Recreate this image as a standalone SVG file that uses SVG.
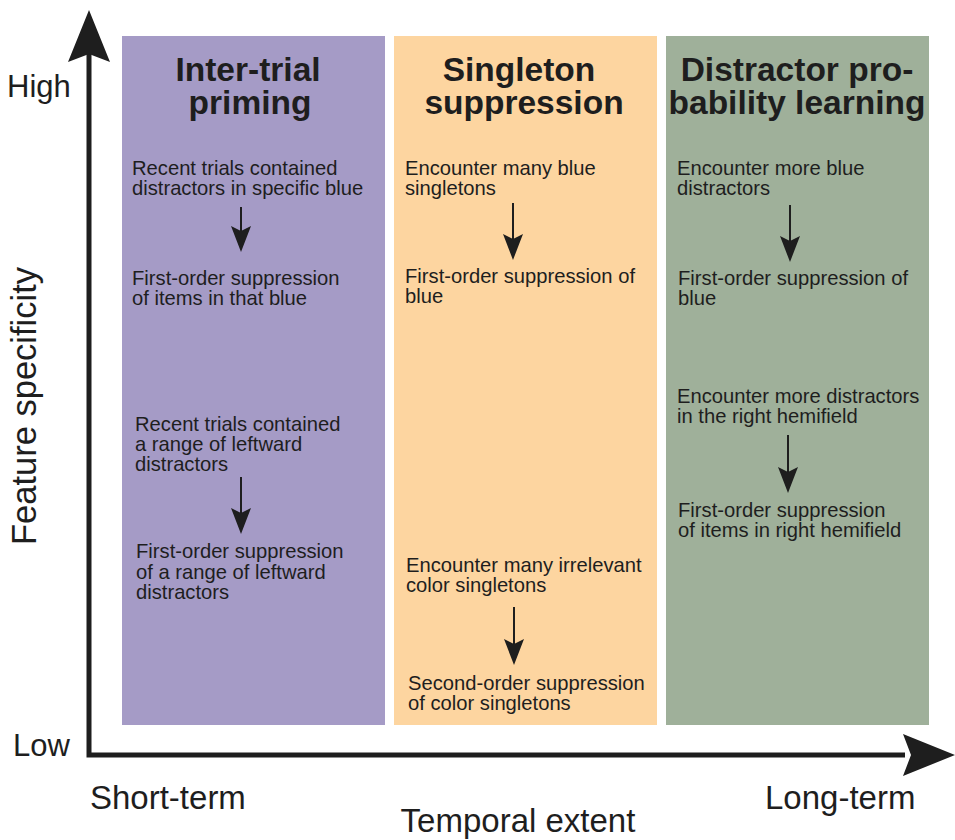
<svg xmlns="http://www.w3.org/2000/svg" width="955" height="840" viewBox="0 0 955 840">
<defs>
<style>
.t{font-family:"Liberation Sans",Arial,sans-serif;font-size:20.2px;fill:#1e1e1e}
.h{font-family:"Liberation Sans",Arial,sans-serif;font-size:33.5px;font-weight:bold;fill:#1e1e1e;text-anchor:middle}
.ax{font-family:"Liberation Sans",Arial,sans-serif;font-size:33px;fill:#1e1e1e}
.c{stroke:#1e1e1e;stroke-width:2;fill:none}
.hd{fill:#1e1e1e}
</style>
</defs>
<rect width="955" height="840" fill="#fff"/>
<g id="axes">
<path d="M89,52 V755 H905" stroke="#1e1e1e" stroke-width="5" fill="none"/>
<path d="M89,10 L110,62 L89,54 L68,62 Z" fill="#1e1e1e"/>
<path d="M955,755 L903,734 L911,755 L903,776 Z" fill="#1e1e1e"/>
<text class="ax" x="7" y="97" style="font-size:31px">High</text>
<text class="ax" x="13" y="756" style="font-size:31px">Low</text>
<text class="ax" x="90" y="809">Short-term</text>
<text class="ax" x="765" y="809">Long-term</text>
<text class="ax" x="518" y="832" text-anchor="middle">Temporal extent</text>
<text class="ax" transform="translate(36,406) rotate(-90)" text-anchor="middle" style="font-size:34.5px">Feature specificity</text>
</g>
<g id="panel-inter-trial">
<rect x="122" y="36" width="263" height="689" fill="#a59bc6"/>
<text class="h" x="248" y="81">Inter-trial</text>
<text class="h" x="250" y="114">priming</text>
<text class="t" x="132" y="175">Recent trials contained</text>
<text class="t" x="132" y="195">distractors in specific blue</text>
<text class="t" x="132" y="285">First-order suppression</text>
<text class="t" x="132" y="305">of items in that blue</text>
<text class="t" x="135" y="431">Recent trials contained</text>
<text class="t" x="135" y="451">a range of leftward</text>
<text class="t" x="135" y="471">distractors</text>
<text class="t" x="136" y="558">First-order suppression</text>
<text class="t" x="136" y="579">of a range of leftward</text>
<text class="t" x="136" y="599">distractors</text>
</g>
<g id="panel-singleton">
<rect x="394" y="36" width="263" height="689" fill="#fdd5a0"/>
<text class="h" x="519" y="81">Singleton</text>
<text class="h" x="524" y="114">suppression</text>
<text class="t" x="405" y="175">Encounter many blue</text>
<text class="t" x="405" y="195">singletons</text>
<text class="t" x="405" y="283">First-order suppression of</text>
<text class="t" x="405" y="303">blue</text>
<text class="t" x="406" y="572">Encounter many irrelevant</text>
<text class="t" x="406" y="592">color singletons</text>
<text class="t" x="408" y="690">Second-order suppression</text>
<text class="t" x="408" y="710">of color singletons</text>
</g>
<g id="panel-distractor">
<rect x="666" y="36" width="263" height="689" fill="#9fb09a"/>
<text class="h" x="797" y="81">Distractor pro-</text>
<text class="h" x="797" y="114">bability learning</text>
<text class="t" x="677" y="175">Encounter more blue</text>
<text class="t" x="677" y="195">distractors</text>
<text class="t" x="678" y="285">First-order suppression of</text>
<text class="t" x="678" y="305">blue</text>
<text class="t" x="677" y="403">Encounter more distractors</text>
<text class="t" x="677" y="423">in the right hemifield</text>
<text class="t" x="678" y="517">First-order suppression</text>
<text class="t" x="678" y="537">of items in right hemifield</text>
</g>
<g id="connectors">
<line class="c" x1="241" y1="207" x2="241" y2="235"/>
<path class="hd" d="M241,252 L231,226 L241,231 L251,226 Z"/>
<line class="c" x1="241" y1="477" x2="241" y2="516"/>
<path class="hd" d="M241,534 L231,508 L241,513 L251,508 Z"/>
<line class="c" x1="513" y1="203" x2="513" y2="242"/>
<path class="hd" d="M513,260 L503,234 L513,239 L523,234 Z"/>
<line class="c" x1="514" y1="607" x2="514" y2="647"/>
<path class="hd" d="M514,665 L504,639 L514,644 L524,639 Z"/>
<line class="c" x1="790" y1="205" x2="790" y2="244"/>
<path class="hd" d="M790,262 L780,236 L790,241 L800,236 Z"/>
<line class="c" x1="788" y1="435" x2="788" y2="475"/>
<path class="hd" d="M788,493 L778,467 L788,472 L798,467 Z"/>
</g>
</svg>
